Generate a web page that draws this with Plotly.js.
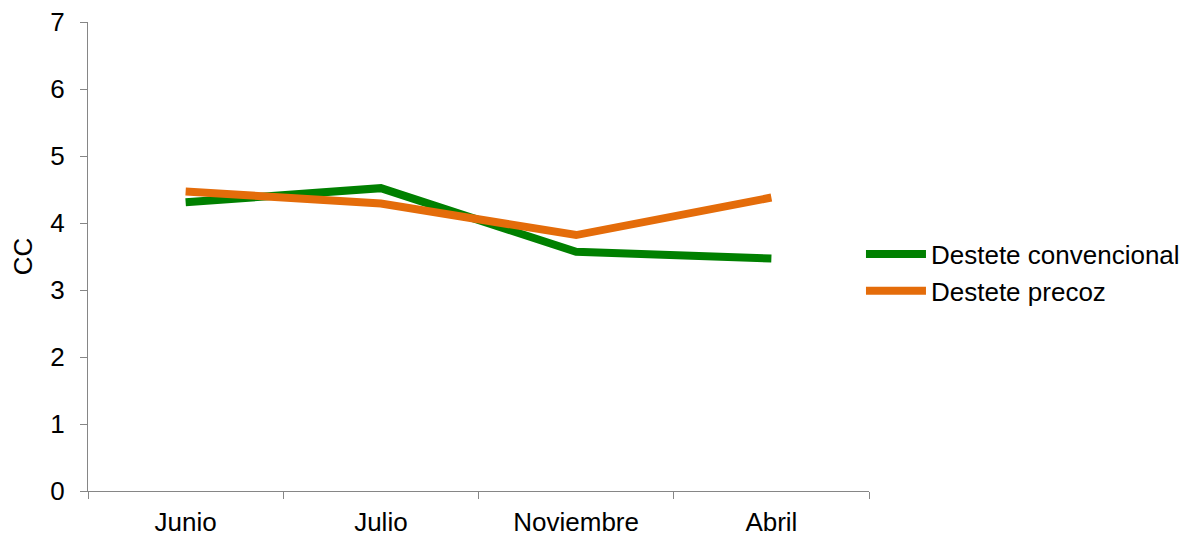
<!DOCTYPE html>
<html>
<head>
<meta charset="utf-8">
<script src="https://cdn.plot.ly/plotly-3.0.1.min.js"></script>
<style>html,body{margin:0;padding:0;background:#fff;}#chart{width:1191px;height:536px;}</style>
</head>
<body>
<div id="chart"></div>
<script>
var categories = ["Junio", "Julio", "Noviembre", "Abril"];
var convencional = [4.31, 4.52, 3.57, 3.47];
var precoz = [4.47, 4.29, 3.82, 4.38];
var seriesNames = ["Destete convencional", "Destete precoz"];
var yTicks = [0, 1, 2, 3, 4, 5, 6, 7];

var font = "Liberation Sans, Arial, sans-serif";
var traces = [
  {x: categories, y: convencional, name: seriesNames[0], type: "scatter", mode: "lines",
   line: {color: "#008000", width: 8}},
  {x: categories, y: precoz, name: seriesNames[1], type: "scatter", mode: "lines",
   line: {color: "#E46C0A", width: 8}}
];
var layout = {
  width: 1191, height: 536,
  margin: {l: 88, r: 322, t: 22, b: 45, autoexpand: false},
  paper_bgcolor: "#fff", plot_bgcolor: "#fff",
  font: {family: font, size: 26, color: "#000"},
  showlegend: true,
  legend: {x: 0.7229, xanchor: "left", y: 0.4916, yanchor: "middle", xref: "container", yref: "container",
           font: {family: font, size: 26, color: "#000"}, itemwidth: 60, bgcolor: "rgba(0,0,0,0)"},
  xaxis: {type: "category", range: [-0.5, 3.5], showline: true, linecolor: "#868686", linewidth: 1,
          ticks: "outside", tickson: "boundaries", ticklen: 7, tickcolor: "#868686", showgrid: false,
          ticklabelstandoff: 8,
          zeroline: false, tickfont: {family: font, size: 26, color: "#000"}, fixedrange: true},
  yaxis: {range: [0, 7], tickvals: yTicks, showline: true, linecolor: "#868686", linewidth: 1,
          ticks: "outside", ticklen: 7, tickcolor: "#868686", showgrid: false, zeroline: false,
          ticklabelstandoff: 10,
          tickfont: {family: font, size: 26, color: "#000"},
          title: {text: "CC", font: {family: font, size: 26, color: "#000"}, standoff: 10}}
};
Plotly.newPlot("chart", traces, layout, {displayModeBar: false, staticPlot: true});
</script>
</body>
</html>
